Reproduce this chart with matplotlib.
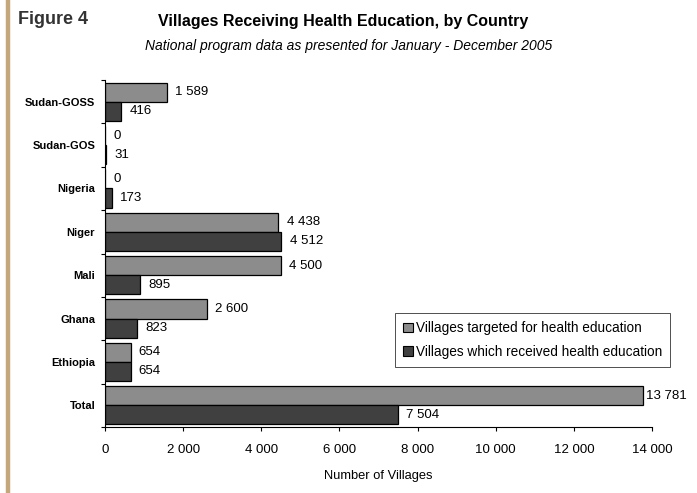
import matplotlib
matplotlib.use("Agg")
import matplotlib.pyplot as plt
from matplotlib.patches import Patch
from matplotlib.lines import Line2D
import numpy as np

categories = ["Sudan-GOSS", "Sudan-GOS", "Nigeria", "Niger", "Mali", "Ghana", "Ethiopia", "Total"]
targeted = [1589, 0, 0, 4438, 4500, 2600, 654, 13781]
received = [416, 31, 173, 4512, 895, 823, 654, 7504]
xticks = [0, 2000, 4000, 6000, 8000, 10000, 12000, 14000]
series_names = ["Villages targeted for health education", "Villages which received health education"]

plt.rcParams['font.family'] = ['Liberation Sans', 'DejaVu Sans']

def fmt(v):
    return f"{v:,}".replace(",", " ")

fig = plt.figure(figsize=(6.97, 4.93), dpi=100)
fig.patch.set_facecolor("white")
# tan left border
fig.add_artist(Line2D([0.0115, 0.0115], [0, 1], transform=fig.transFigure, color="#c4a77a", lw=3.2))

ax = fig.add_axes([0.1506, 0.1339, 0.7848, 0.7038])
n = len(categories)
y = np.arange(n)
h = 0.44
ax.barh(y - h / 2, targeted, height=h, color="#8c8c8c", edgecolor="black", linewidth=0.9)
ax.barh(y + h / 2, received, height=h, color="#404040", edgecolor="black", linewidth=0.9)

for i in range(n):
    off_t = 1.5 if targeted[i] > 13000 else 6
    ax.annotate(fmt(targeted[i]), (targeted[i], y[i] - h / 2), xytext=(off_t, 0), textcoords="offset points",
                va="center", ha="left", fontsize=9.5)
    ax.annotate(fmt(received[i]), (received[i], y[i] + h / 2), xytext=(6, 0), textcoords="offset points",
                va="center", ha="left", fontsize=9.5)

ax.set_ylim(n - 0.5, -0.5)
ax.set_xlim(0, 14000)
ax.set_yticks(y)
ax.set_yticklabels(categories, fontsize=8, fontweight="bold")
ax.tick_params(axis="y", length=0, pad=7)
ax.set_yticks(np.arange(n + 1) - 0.5, minor=True)
ax.tick_params(axis="y", which="minor", length=3, width=0.8)
ax.set_xticks(xticks)
ax.set_xticklabels([fmt(v) for v in xticks], fontsize=9.5)
ax.tick_params(axis="x", length=3, width=0.8, pad=9)
ax.spines["top"].set_visible(False)
ax.spines["right"].set_visible(False)
ax.spines["left"].set_linewidth(0.8)
ax.spines["bottom"].set_linewidth(0.8)
ax.set_xlabel("Number of Villages", fontsize=9.3, labelpad=10)

handles = [Patch(facecolor="#8c8c8c", edgecolor="black", linewidth=0.8),
           Patch(facecolor="#404040", edgecolor="black", linewidth=0.8)]
leg = ax.legend(handles, series_names, loc="upper left", bbox_to_anchor=(0.53, 0.3285), fontsize=9.8,
                frameon=True, fancybox=False, edgecolor="black", handlelength=0.7, handleheight=0.7,
                handletextpad=0.25, borderpad=0.6, labelspacing=0.7, borderaxespad=0)
leg.get_frame().set_linewidth(0.6)

fig.text(0.026, 0.96, "Figure 4", fontsize=13, fontweight="bold", color="#333333", ha="left", va="center")
fig.text(0.492, 0.957, "Villages Receiving Health Education, by Country", fontsize=11.5, fontweight="bold",
         ha="center", va="center")
fig.text(0.5, 0.907, "National program data as presented for January - December 2005", fontsize=10,
         style="italic", ha="center", va="center")

fig.savefig("out.png", dpi=100)
